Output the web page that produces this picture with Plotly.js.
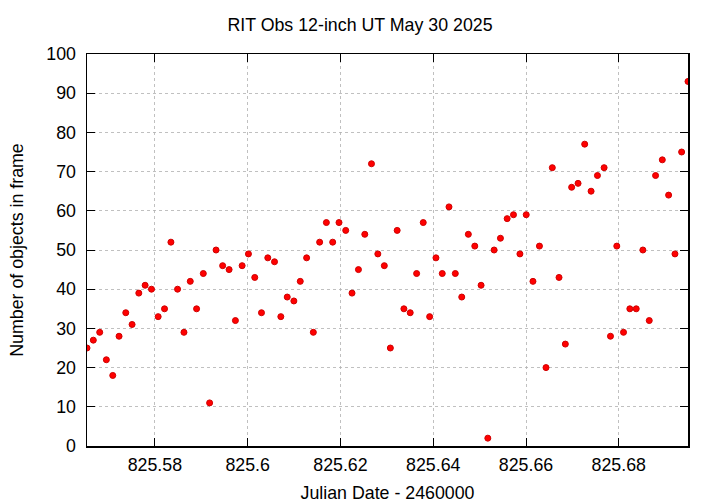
<!DOCTYPE html>
<html>
<head>
<meta charset="utf-8">
<script src="https://cdn.plot.ly/plotly-3.0.1.min.js"></script>
<style>html,body{margin:0;padding:0;background:#fff}#chart{width:720px;height:504px}</style>
</head>
<body>
<div id="chart"></div>
<script>
const jd = [825.56537,825.56673,825.56811,825.56954,825.57092,825.57228,825.57373,825.57509,825.57654,825.57790,
825.57927,825.58071,825.58208,825.58346,825.58489,825.58627,825.58763,825.58899,825.59044,825.59180,
825.59319,825.59461,825.59600,825.59736,825.59881,825.60017,825.60153,825.60298,825.60434,825.60579,
825.60715,825.60853,825.60996,825.61134,825.61271,825.61416,825.61552,825.61697,825.61833,825.61969,
825.62114,825.62250,825.62388,825.62525,825.62669,825.62806,825.62946,825.63076,825.63223,825.63368,
825.63504,825.63642,825.63785,825.63923,825.64059,825.64195,825.64340,825.64476,825.64615,825.64757,
825.64896,825.65032,825.65177,825.65313,825.65449,825.65594,825.65730,825.65869,825.66005,825.66150,
825.66290,825.66431,825.66567,825.66712,825.66848,825.66984,825.67122,825.67265,825.67403,825.67540,
825.67684,825.67821,825.67957,825.68102,825.68238,825.68376,825.68519,825.68657,825.68793,825.68938,
825.69074,825.69211,825.69355,825.69492];
const nObjects = [25,27,29,22,18,28,34,31,39,41,
40,33,35,52,40,29,42,35,44,11,
50,46,45,32,46,49,43,34,48,47,
33,38,37,42,48,29,52,57,52,57,
55,39,45,54,72,49,46,25,55,35,
34,44,57,33,48,44,61,44,38,54,
51,41,2,50,53,58,59,49,59,42,
51,20,71,43,26,66,67,77,65,69,
71,28,51,29,35,35,50,32,69,73,
64,49,75,93];
const xTicks = [825.58,825.6,825.62,825.64,825.66,825.68];
const xTickText = ["825.58","825.6","825.62","825.64","825.66","825.68"];

const fam = "Liberation Sans, Arial, sans-serif";
const fs = 17.8;
Plotly.newPlot("chart", [{
  x: jd, y: nObjects, type: "scatter", mode: "markers",
  marker: {color: "#ff0000", size: 6, line: {color: "#d00000", width: 1}},
  hoverinfo: "x+y"
}], {
  width: 720, height: 504,
  margin: {l: 87, r: 32, t: 54, b: 58},
  paper_bgcolor: "#fff", plot_bgcolor: "#fff",
  showlegend: false,
  font: {family: fam, size: fs, color: "#000"},
  title: {text: "RIT Obs 12-inch UT May 30 2025", x: 0.5, xanchor: "center", y: 0.95, yanchor: "middle", font: {family: fam, size: fs}},
  xaxis: {
    range: [jd[0], jd[jd.length-1]],
    tickvals: xTicks, ticktext: xTickText,
    ticks: "inside", ticklen: 8, tickcolor: "#000", tickwidth: 1,
    showline: true, linecolor: "#000", linewidth: 1.5, mirror: "ticks",
    showgrid: true, gridcolor: "#b0b0b0", griddash: "dot", gridwidth: 0.8,
    zeroline: false,
    tickfont: {family: fam, size: fs},
    ticklabelstandoff: 2,
    title: {text: "Julian Date - 2460000", font: {family: fam, size: fs}, standoff: 12}
  },
  yaxis: {
    range: [0, 100], dtick: 10, tick0: 0,
    ticks: "inside", ticklen: 8, tickcolor: "#000", tickwidth: 1,
    showline: true, linecolor: "#000", linewidth: 1.5, mirror: "ticks",
    showgrid: true, gridcolor: "#b0b0b0", griddash: "dot", gridwidth: 0.8,
    zeroline: false,
    tickfont: {family: fam, size: fs},
    ticklabelstandoff: 6,
    title: {text: "Number of objects in frame", font: {family: fam, size: fs}, standoff: 18}
  }
}, {displayModeBar: false, staticPlot: true});
</script>
</body>
</html>
